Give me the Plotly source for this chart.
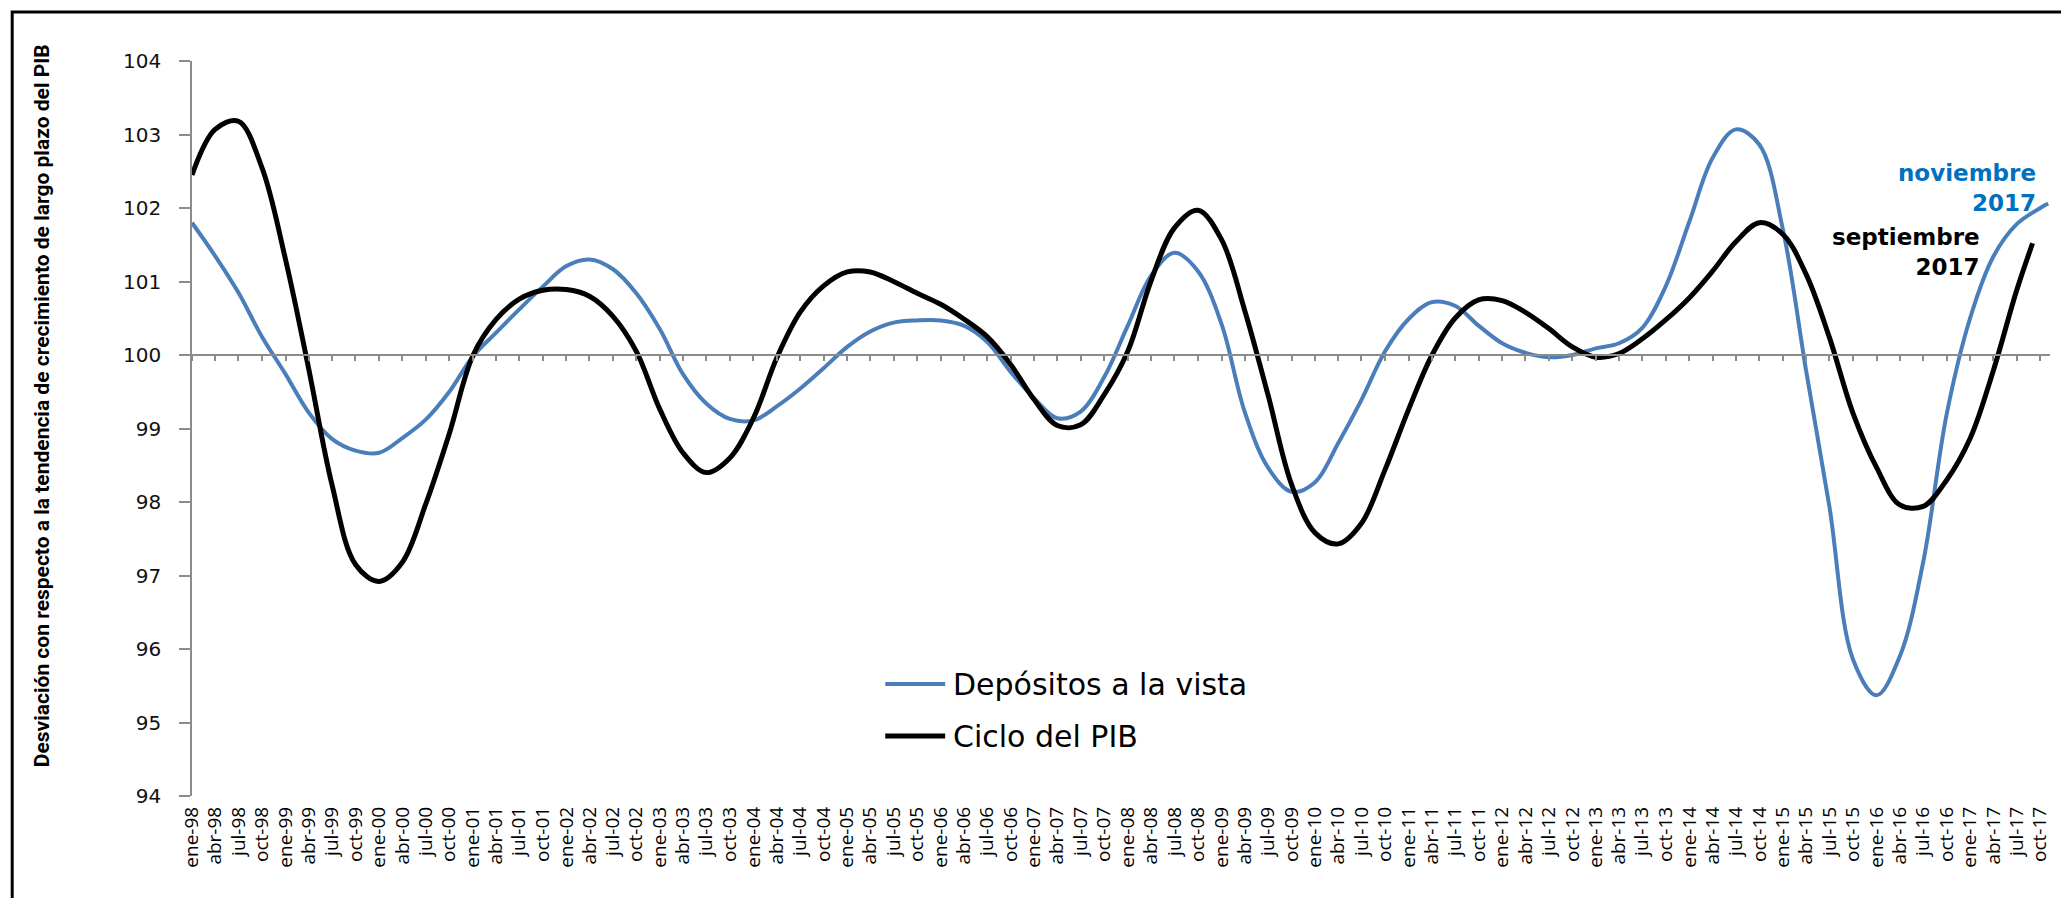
import pandas as pd
import plotly.graph_objects as go

# Trimestres (inicio de mes) desde ene-98 hasta oct-17
trimestres = pd.date_range("1998-01-01", "2017-10-01", freq="QS")
MESES = {1: "ene", 4: "abr", 7: "jul", 10: "oct"}
etiquetas = [f"{MESES[d.month]}-{d:%y}" for d in trimestres]

# Depósitos a la vista: valores trimestrales + último dato (nov-17)
depositos = [
    101.80, 101.35, 100.85, 100.25, 99.74, 99.22, 98.86, 98.70,
    98.67, 98.87, 99.12, 99.50, 99.98, 100.30, 100.62, 100.93,
    101.21, 101.30, 101.17, 100.84, 100.35, 99.74, 99.34, 99.13,
    99.11, 99.30, 99.54, 99.82, 100.11, 100.32, 100.44, 100.47,
    100.47, 100.40, 100.18, 99.77, 99.41, 99.14, 99.23, 99.70,
    100.40, 101.08, 101.39, 101.14, 100.42, 99.23, 98.47, 98.14,
    98.27, 98.80, 99.39, 100.05, 100.49, 100.72, 100.67, 100.40,
    100.16, 100.03, 99.97, 100.00, 100.09, 100.16, 100.37, 100.94,
    101.82, 102.68, 103.07, 102.86, 101.70, 99.79, 97.94, 95.86,
    95.37, 95.90, 97.18, 99.20, 100.51, 101.34, 101.78, 102.00,
    102.06,
]
fechas_depositos = list(trimestres) + [pd.Timestamp("2017-11-01")]

# Ciclo del PIB: valores trimestrales hasta jul-17 + último dato (sep-17)
ciclo_pib = [
    102.45, 103.07, 103.18, 102.55, 101.30, 99.82, 98.24, 97.15,
    96.92, 97.18, 97.97, 98.93, 99.99, 100.48, 100.76, 100.88,
    100.89, 100.80, 100.53, 100.05, 99.26, 98.67, 98.40, 98.60,
    99.14, 99.96, 100.58, 100.94, 101.13, 101.13, 101.00, 100.84,
    100.69, 100.49, 100.25, 99.87, 99.39, 99.04, 99.05, 99.46,
    100.05, 101.01, 101.73, 101.97, 101.57, 100.61, 99.46, 98.24,
    97.58, 97.43, 97.71, 98.44, 99.26, 99.99, 100.50, 100.75,
    100.74, 100.58, 100.36, 100.11, 99.97, 100.02, 100.22, 100.48,
    100.78, 101.14, 101.54, 101.80, 101.64, 101.10, 100.24, 99.21,
    98.47, 97.96, 97.94, 98.30, 98.87, 99.79, 100.88,
    101.52,
]
fechas_pib = list(trimestres[:79]) + [pd.Timestamp("2017-09-01")]

y_ticks = list(range(94, 105))

AZUL = "#4A7EBB"
AZUL_TEXTO = "#0070C0"
GRIS = "#8C8C8C"

# la página tiene 8 px de margen en el body
OFF = 8
FW, FH = 2069 - 2 * OFF, 906 - 2 * OFF
# área de trazado en coordenadas de pantalla
PL, PR, PT, PB = 192, 2052, 61, 796
RANGO_X = ["1998-01-01", "2017-11-08"]


def px(x):
    return (x - PL) / (PR - PL)


def py(y):
    return (PB - y) / (PB - PT)


fig = go.Figure()
fig.add_trace(
    go.Scatter(
        x=fechas_depositos,
        y=depositos,
        name="Depósitos a la vista",
        mode="lines",
        line={"color": AZUL, "width": 4, "shape": "spline"},
        showlegend=False,
    )
)
fig.add_trace(
    go.Scatter(
        x=fechas_pib,
        y=ciclo_pib,
        name="Ciclo del PIB",
        mode="lines",
        line={"color": "#000000", "width": 5, "shape": "spline"},
        xaxis="x2",
        showlegend=False,
    )
)

# leyenda dibujada a mano (línea larga como en el original)
leyenda = [("Depósitos a la vista", AZUL, 4, 684), ("Ciclo del PIB", "#000000", 5, 736)]
shapes = [
    {
        "type": "rect", "xref": "paper", "yref": "paper",
        "x0": px(12), "x1": px(2090), "y0": py(930), "y1": py(12),
        "line": {"color": "#000000", "width": 3},
    }
]
annotations = [
    {
        "text": "<b>Desviación con respecto a la tendencia de crecimiento de largo plazo del PIB</b>",
        "xref": "paper", "yref": "paper", "x": px(28), "y": py(406),
        "textangle": -90, "showarrow": False,
        "font": {"family": "Roboto", "size": 21, "color": "#000000"},
    },
    {
        "text": "<b>noviembre<br>2017</b>", "align": "right",
        "xref": "paper", "yref": "paper", "x": px(2040), "y": py(158),
        "xanchor": "right", "showarrow": False,
        "font": {"family": "DejaVu Sans", "size": 23, "color": AZUL_TEXTO},
    },
    {
        "text": "<b>septiembre<br>2017</b>", "align": "right",
        "xref": "paper", "yref": "paper", "x": px(1984), "y": py(222),
        "xanchor": "right", "showarrow": False,
        "font": {"family": "DejaVu Sans", "size": 23, "color": "#000000"},
    },
]
for nombre, color, ancho, fila in leyenda:
    shapes.append(
        {
            "type": "line", "xref": "paper", "yref": "paper",
            "x0": px(886), "x1": px(946), "y0": py(fila), "y1": py(fila),
            "line": {"color": color, "width": ancho},
        }
    )
    annotations.append(
        {
            "text": nombre, "xref": "paper", "yref": "paper",
            "x": px(952), "y": py(fila), "xanchor": "left", "yanchor": "middle",
            "showarrow": False,
            "font": {"family": "DejaVu Sans", "size": 30, "color": "#000000"},
        }
    )

fig.update_layout(
    width=FW,
    height=FH,
    autosize=False,
    margin={"l": PL - OFF, "r": OFF + FW - PR, "t": PT - OFF, "b": OFF + FH - PB, "pad": 0},
    paper_bgcolor="white",
    plot_bgcolor="white",
    showlegend=False,
    xaxis={
        "type": "date",
        "range": RANGO_X,
        "tickvals": list(trimestres),
        "ticktext": etiquetas,
        "tickangle": -90,
        "ticks": "",
        "ticklabelstandoff": 6,
        "showline": False,
        "showgrid": False,
        "zeroline": False,
        "tickfont": {"family": "Open Sans", "size": 19, "color": "#000000"},
    },
    xaxis2={
        "type": "date",
        "range": RANGO_X,
        "matches": "x",
        "overlaying": "x",
        "anchor": "free",
        "position": (100 - 94) / 10,
        "side": "bottom",
        "tickvals": list(trimestres),
        "showticklabels": False,
        "ticks": "outside",
        "ticklen": 5,
        "tickwidth": 1.5,
        "tickcolor": GRIS,
        "showline": True,
        "linecolor": GRIS,
        "linewidth": 1.5,
        "showgrid": False,
        "zeroline": False,
    },
    yaxis={
        "range": [94, 104],
        "tickvals": y_ticks,
        "ticks": "outside",
        "ticklen": 11,
        "tickwidth": 1.5,
        "tickcolor": GRIS,
        "showline": True,
        "linecolor": GRIS,
        "linewidth": 1.5,
        "showgrid": False,
        "zeroline": False,
        "ticklabelstandoff": 14,
        "tickfont": {"family": "DejaVu Sans", "size": 20, "color": "#111111"},
    },
    shapes=shapes,
    annotations=annotations,
)

fig.write_html("out.html")
